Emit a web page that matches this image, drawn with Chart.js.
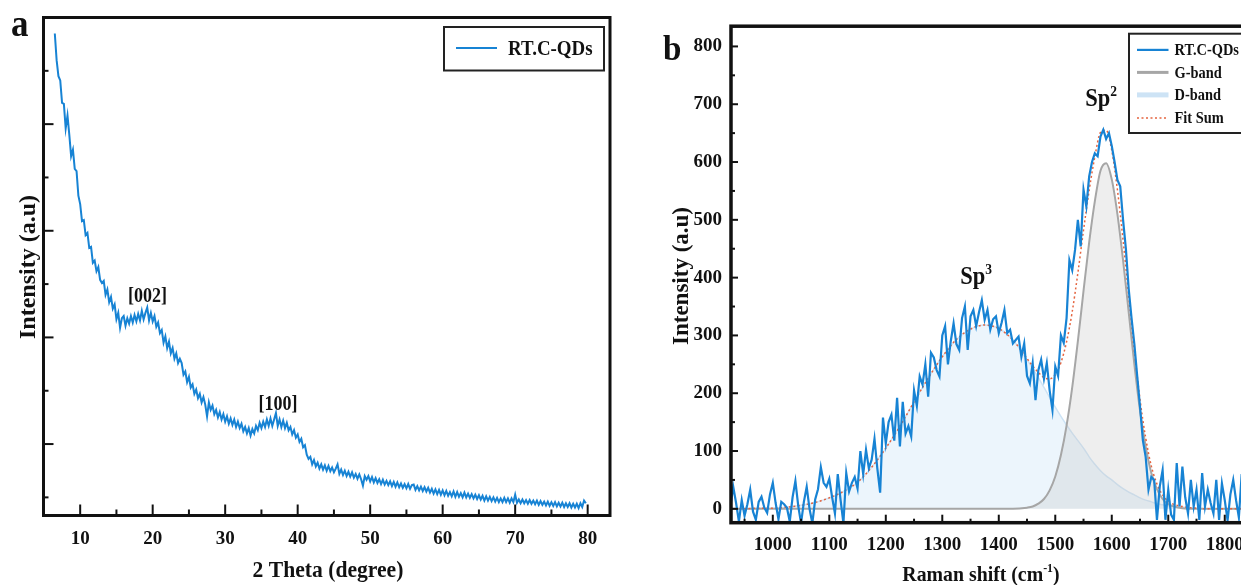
<!DOCTYPE html>
<html>
<head>
<meta charset="utf-8">
<script src="https://cdn.jsdelivr.net/npm/chart.js@4.4.1/dist/chart.umd.min.js"></script>
<style>
  html, body { margin: 0; padding: 0; background: #fff; overflow: hidden; width: 1241px; height: 585px; }
  #panel-a { position: absolute; left: 0; top: 0; width: 620px; height: 585px; }
  #panel-b { position: absolute; left: 625px; top: 0; width: 660px; height: 585px; }
</style>
</head>
<body>
<div id="panel-a"><canvas id="xrdChart"></canvas></div>
<div id="panel-b"><canvas id="ramanChart"></canvas></div>
<script>
// ===== DATA =====
// (a) XRD pattern, 2 theta in degrees (one row per degree)
const twoTheta = [
  6.5, 6.75,
  7, 7.25, 7.5, 7.75, 8, 8.25, 8.5, 8.75, 9, 9.25, 9.5, 9.75,
  10, 10.25, 10.5, 10.75, 11, 11.25, 11.5, 11.75, 12, 12.25, 12.5, 12.75,
  13, 13.25, 13.5, 13.75, 14, 14.25, 14.5, 14.75, 15, 15.25, 15.5, 15.75,
  16, 16.25, 16.5, 16.75, 17, 17.25, 17.5, 17.75, 18, 18.25, 18.5, 18.75,
  19, 19.25, 19.5, 19.75, 20, 20.25, 20.5, 20.75, 21, 21.25, 21.5, 21.75,
  22, 22.25, 22.5, 22.75, 23, 23.25, 23.5, 23.75, 24, 24.25, 24.5, 24.75,
  25, 25.25, 25.5, 25.75, 26, 26.25, 26.5, 26.75, 27, 27.25, 27.5, 27.75,
  28, 28.25, 28.5, 28.75, 29, 29.25, 29.5, 29.75, 30, 30.25, 30.5, 30.75,
  31, 31.25, 31.5, 31.75, 32, 32.25, 32.5, 32.75, 33, 33.25, 33.5, 33.75,
  34, 34.25, 34.5, 34.75, 35, 35.25, 35.5, 35.75, 36, 36.25, 36.5, 36.75,
  37, 37.25, 37.5, 37.75, 38, 38.25, 38.5, 38.75, 39, 39.25, 39.5, 39.75,
  40, 40.25, 40.5, 40.75, 41, 41.25, 41.5, 41.75, 42, 42.25, 42.5, 42.75,
  43, 43.25, 43.5, 43.75, 44, 44.25, 44.5, 44.75, 45, 45.25, 45.5, 45.75,
  46, 46.25, 46.5, 46.75, 47, 47.25, 47.5, 47.75, 48, 48.25, 48.5, 48.75,
  49, 49.25, 49.5, 49.75, 50, 50.25, 50.5, 50.75, 51, 51.25, 51.5, 51.75,
  52, 52.25, 52.5, 52.75, 53, 53.25, 53.5, 53.75, 54, 54.25, 54.5, 54.75,
  55, 55.25, 55.5, 55.75, 56, 56.25, 56.5, 56.75, 57, 57.25, 57.5, 57.75,
  58, 58.25, 58.5, 58.75, 59, 59.25, 59.5, 59.75, 60, 60.25, 60.5, 60.75,
  61, 61.25, 61.5, 61.75, 62, 62.25, 62.5, 62.75, 63, 63.25, 63.5, 63.75,
  64, 64.25, 64.5, 64.75, 65, 65.25, 65.5, 65.75, 66, 66.25, 66.5, 66.75,
  67, 67.25, 67.5, 67.75, 68, 68.25, 68.5, 68.75, 69, 69.25, 69.5, 69.75,
  70, 70.25, 70.5, 70.75, 71, 71.25, 71.5, 71.75, 72, 72.25, 72.5, 72.75,
  73, 73.25, 73.5, 73.75, 74, 74.25, 74.5, 74.75, 75, 75.25, 75.5, 75.75,
  76, 76.25, 76.5, 76.75, 77, 77.25, 77.5, 77.75, 78, 78.25, 78.5, 78.75,
  79, 79.25, 79.5, 79.75
];
const xrdIntensity = [
  4850, 4600,
  4450, 4410, 4200, 4190, 3960, 4080, 3900, 3700, 3760, 3580, 3560, 3330,
  3250, 3090, 3100, 2960, 2980, 2840, 2850, 2700, 2720, 2620, 2660, 2540,
  2510, 2530, 2400, 2450, 2330, 2380, 2270, 2310, 2170, 2230, 2090, 2180,
  2200, 2110, 2180, 2130, 2200, 2140, 2210, 2150, 2220, 2160, 2250, 2170,
  2230, 2280, 2160, 2230, 2150, 2200, 2100, 2140, 2040, 2070, 1950, 2010,
  1900, 1960, 1850, 1900, 1800, 1850, 1760, 1800, 1760, 1650, 1680, 1580,
  1630, 1530, 1560, 1470, 1510, 1430, 1470, 1390, 1440, 1370, 1260, 1390,
  1320, 1360, 1280, 1320, 1250, 1300, 1230, 1280, 1210, 1260, 1190, 1240,
  1180, 1230, 1160, 1210, 1150, 1190, 1120, 1160, 1100, 1150, 1080, 1140,
  1100, 1170, 1130, 1200, 1150, 1210, 1160, 1230, 1170, 1240, 1170, 1230,
  1290, 1170, 1230, 1160, 1220, 1150, 1200, 1130, 1160, 1090, 1130, 1060,
  1090, 1020, 1050, 970, 990, 900, 860, 880, 810, 850, 790, 825,
  770, 810, 760, 800, 750, 795, 745, 780, 735, 770, 810, 720,
  760, 710, 750, 700, 740, 695, 735, 685, 720, 675, 715, 670,
  610, 700, 665, 700, 650, 690, 640, 680, 635, 670, 625, 665,
  620, 655, 615, 650, 605, 645, 600, 640, 595, 630, 590, 625,
  585, 625, 580, 615, 620, 570, 605, 565, 600, 560, 595, 555,
  590, 545, 580, 535, 575, 530, 570, 525, 565, 520, 560, 515,
  550, 510, 555, 505, 550, 505, 540, 500, 545, 500, 535, 495,
  530, 490, 525, 485, 520, 480, 515, 470, 510, 470, 505, 465,
  500, 460, 495, 455, 490, 455, 495, 455, 490, 450, 490, 455,
  525, 450, 480, 445, 480, 445, 475, 440, 475, 440, 470, 435,
  470, 430, 465, 430, 460, 425, 460, 420, 455, 420, 455, 415,
  450, 415, 450, 410, 445, 410, 445, 405, 440, 405, 440, 400,
  445, 410, 470, 445
];
const xTicksA = [10, 20, 30, 40, 50, 60, 70, 80];
const xMinorA = [15, 25, 35, 45, 55, 65, 75];
const yMajorA = [1000, 2000, 3000, 4000];
const yMinorA = [500, 1500, 2500, 3500, 4500];

// (b) Raman spectrum, shift in cm-1
const ramanShift = [
  925, 930, 935, 940, 945, 950, 955, 960, 965, 970,
  975, 980, 985, 990, 995, 1000, 1005, 1010, 1015, 1020,
  1025, 1030, 1035, 1040, 1045, 1050, 1055, 1060, 1065, 1070,
  1075, 1080, 1085, 1090, 1095, 1100, 1105, 1110, 1115, 1120,
  1125, 1130, 1135, 1140, 1145, 1150, 1155, 1160, 1165, 1170,
  1175, 1180, 1185, 1190, 1195, 1200, 1205, 1210, 1215, 1220,
  1225, 1230, 1235, 1240, 1245, 1250, 1255, 1260, 1265, 1270,
  1275, 1280, 1285, 1290, 1295, 1300, 1305, 1310, 1315, 1320,
  1325, 1330, 1335, 1340, 1345, 1350, 1355, 1360, 1365, 1370,
  1375, 1380, 1385, 1390, 1395, 1400, 1405, 1410, 1415, 1420,
  1425, 1430, 1435, 1440, 1445, 1450, 1455, 1460, 1465, 1470,
  1475, 1480, 1485, 1490, 1495, 1500, 1505, 1510, 1515, 1520,
  1525, 1530, 1535, 1540, 1545, 1550, 1555, 1560, 1565, 1570,
  1575, 1580, 1585, 1590, 1595, 1600, 1605, 1610, 1615, 1620,
  1625, 1630, 1635, 1640, 1645, 1650, 1655, 1660, 1665, 1670,
  1675, 1680, 1685, 1690, 1695, 1700, 1705, 1710, 1715, 1720,
  1725, 1730, 1735, 1740, 1745, 1750, 1755, 1760, 1765, 1770,
  1775, 1780, 1785, 1790, 1795, 1800, 1805, 1810, 1815, 1820,
  1825, 1830, 1835, 1840, 1845, 1850
];
const ramanIntensity = [
  5, 38, 10, -22, 15, -12, 8, 33, -5, -19,
  12, 21, 2, -7, 25, 45, 10, -18, 12, 8,
  2, -22, 20, 48, 5, -25, 12, 38, 0, -25,
  16, 34, 72, 45, 38, 52, 20, -8, 60, 15,
  -25, 62, 30, 45, 55, 35, 100, 60, 102, 70,
  85, 121, 70, 28, 158, 113, 150, 163, 118, 192,
  108, 185, 130, 143, 125, 205, 178, 229, 215, 250,
  194, 270, 262, 240, 229, 300, 316, 250, 290, 321,
  285, 275, 330, 350, 275, 333, 344, 316, 340, 361,
  327, 344, 310, 328, 333, 304, 322, 344, 304, 310,
  286, 292, 298, 263, 286, 230, 217, 252, 188, 240,
  258, 225, 252, 205, 171, 246, 230, 300, 287, 330,
  430, 413, 448, 500, 454, 552, 523, 575, 600, 615,
  610, 644, 656, 640, 650, 628, 600, 569, 558, 500,
  450, 380, 330, 285, 230, 177, 119, 90, 33, 55,
  50, -19, 39, 67, -19, 33, -10, -19, 79, 4,
  73, 20, -8, 50, 4, 33, -19, 62, 4, 33,
  10, -8, 50, -19, 44, 15, -20, 25, 50, 15,
  -15, 60, 5, 30, -10, 20
];
// fitted components, read at these shifts
const fitShift = [
  925, 950, 975, 1000, 1025, 1050, 1075, 1100, 1125, 1150,
  1175, 1200, 1225, 1250, 1275, 1300, 1325, 1350, 1375, 1400,
  1425, 1450, 1460, 1470, 1480, 1490, 1500, 1510, 1520, 1530,
  1540, 1550, 1560, 1570, 1580, 1590, 1600, 1610, 1620, 1630,
  1640, 1650, 1660, 1670, 1680, 1690, 1700, 1725, 1750, 1775,
  1800, 1825, 1850
];
const gBand = [
  0, 0, 0, 0, 0, 0, 0, 0, 0, 0,
  0, 0, 0, 0, 0, 0, 0, 0, 0, 0,
  0, 2, 4, 9, 17, 32, 56, 93, 144, 210,
  290, 377, 461, 532, 585, 598, 570, 510, 430, 340,
  250, 170, 108, 62, 34, 17, 8, 1, 0, 0,
  0, 0, 0
];
const dBand = [
  0, 0, 1, 1, 3, 6, 11, 19, 30, 46,
  72, 105, 143, 185, 226, 263, 293, 311, 318, 312,
  292, 258, 243, 227, 210, 193, 176, 160, 145, 131,
  118, 105, 90, 77, 66, 57, 50, 42, 35, 29,
  24, 19, 15, 12, 9, 7, 5, 3, 1, 0,
  0, 0, 0
];
const fitSum = [
  0, 0, 1, 1, 3, 6, 11, 19, 30, 46,
  72, 105, 143, 185, 226, 263, 293, 311, 318, 312,
  292, 260, 247, 236, 227, 225, 232, 253, 289, 341,
  408, 482, 551, 609, 651, 655, 620, 552, 465, 369,
  274, 189, 123, 74, 43, 24, 13, 4, 1, 0,
  0, 0, 0
];
const xTicksB = [1000, 1100, 1200, 1300, 1400, 1500, 1600, 1700, 1800];
const xMinorB = [950, 1050, 1150, 1250, 1350, 1450, 1550, 1650, 1750, 1850];
const yTicksB = [0, 100, 200, 300, 400, 500, 600, 700, 800];
const yMinorB = [50, 150, 250, 350, 450, 550, 650, 750];

// ===== DRAWING HELPERS =====
const SERIF = '"Liberation Serif", "Times New Roman", serif';
const BLUE = '#1783d4';

function boldFont(size) {
    return `bold ${size}px ${SERIF}`;
}

// the source figure's text is a little narrow, so squeeze horizontally
function drawParts(ctx, parts, x, y, size, align, squeeze) {
    ctx.save();
    ctx.translate(x, y);
    ctx.scale(squeeze || 1, 1);
    ctx.textBaseline = 'alphabetic';
    ctx.textAlign = 'left';
    let total = 0;
    const widths = parts.map(([t, sup]) => {
        ctx.font = boldFont(sup ? size * 0.6 : size);
        const w = ctx.measureText(t).width;
        total += w;
        return w;
    });
    let cx = align === 'left' ? 0 : -total / 2;
    parts.forEach(([t, sup], i) => {
        ctx.font = boldFont(sup ? size * 0.6 : size);
        ctx.fillText(t, cx, sup ? -size * 0.4 : 0);
        cx += widths[i];
    });
    ctx.restore();
}

const panelDecor = {
    id: 'panelDecor',
    afterDraw(chart, args, opts) {
        const ctx = chart.ctx;
        const a = chart.chartArea;
        const xs = chart.scales.x, ys = chart.scales.y;
        ctx.save();
        ctx.fillStyle = '#111';
        ctx.strokeStyle = '#111';

        // inward tick marks
        ctx.lineWidth = 2;
        const tick = (x1, y1, x2, y2) => {
            ctx.beginPath(); ctx.moveTo(x1, y1); ctx.lineTo(x2, y2); ctx.stroke();
        };
        const inX = v => v > xs.min && v < xs.max;
        const inY = v => v > ys.min && v < ys.max;
        opts.xMajor.filter(inX).forEach(v => { const p = xs.getPixelForValue(v); tick(p, a.bottom, p, a.bottom - opts.len[0]); });
        opts.xMinor.filter(inX).forEach(v => { const p = xs.getPixelForValue(v); tick(p, a.bottom, p, a.bottom - opts.len[1]); });
        opts.yMajor.filter(inY).forEach(v => { const p = ys.getPixelForValue(v); tick(a.left, p, a.left + opts.len[2], p); });
        opts.yMinor.filter(inY).forEach(v => { const p = ys.getPixelForValue(v); tick(a.left, p, a.left + opts.len[3], p); });

        // frame
        ctx.lineWidth = opts.frameWidth;
        ctx.strokeRect(a.left, a.top, a.right - a.left, a.bottom - a.top);

        // panel letter
        drawParts(ctx, [[opts.letter.text]], opts.letter.x, opts.letter.y, opts.letter.size, 'left', 0.92);

        // axis titles
        const xt = opts.xTitle;
        drawParts(ctx, xt.parts, xt.x, xt.y, xt.size, 'center', 0.9);
        const yt = opts.yTitle;
        ctx.save();
        ctx.translate(yt.x, yt.y);
        ctx.rotate(-Math.PI / 2);
        drawParts(ctx, [[yt.text]], 0, yt.size * 0.33, yt.size, 'center', 1);
        ctx.restore();

        // peak annotations, placed in data coordinates
        opts.notes.forEach(n => {
            const px = xs.getPixelForValue(n.x);
            const py = ys.getPixelForValue(n.y);
            drawParts(ctx, n.parts, px, py + n.size * 0.33, n.size, 'center', 0.9);
        });

        // legend box
        const L = opts.legend;
        ctx.fillStyle = '#fff';
        ctx.fillRect(L.box[0], L.box[1], L.box[2], L.box[3]);
        ctx.lineWidth = 2;
        ctx.strokeStyle = '#222';
        ctx.strokeRect(L.box[0], L.box[1], L.box[2], L.box[3]);
        ctx.fillStyle = '#111';
        chart.data.datasets.forEach((ds, i) => {
            const y = L.rowY[i];
            ctx.save();
            ctx.strokeStyle = ds.borderColor;
            ctx.lineWidth = L.lineWidths[i];
            ctx.setLineDash(ds.borderDash || []);
            ctx.beginPath(); ctx.moveTo(L.lineX[0], y); ctx.lineTo(L.lineX[1], y); ctx.stroke();
            ctx.restore();
            drawParts(ctx, [[ds.label]], L.textX, y + L.size * 0.33, L.size, 'left', 0.9);
        });
        ctx.restore();
    }
};

const tickFont = { family: SERIF, size: 19, weight: 'bold' };

// ===== (a) XRD =====
new Chart(document.getElementById('xrdChart'), {
    type: 'line',
    data: {
        datasets: [{
            label: 'RT.C-QDs',
            data: twoTheta.map((t, i) => ({ x: t, y: xrdIntensity[i] })),
            borderColor: BLUE,
            borderWidth: 2,
            pointRadius: 0,
            tension: 0
        }]
    },
    options: {
        responsive: true,
        maintainAspectRatio: false,
        animation: false,
        devicePixelRatio: 1,
        layout: { padding: { left: 0, top: 17.5, right: 10, bottom: 0 } },
        plugins: {
            legend: { display: false },
            tooltip: { enabled: false },
            panelDecor: {
                letter: { text: 'a', x: 11, y: 36, size: 38 },
                xMajor: xTicksA, xMinor: xMinorA, yMajor: yMajorA, yMinor: yMinorA,
                len: [11, 6, 10, 5],
                frameWidth: 3,
                xTitle: { parts: [['2 Theta (degree)']], x: 328, y: 577, size: 24 },
                yTitle: { text: 'Intensity (a.u)', x: 27, y: 267, size: 24 },
                notes: [
                    { parts: [['[002]']], x: 19.3, y: 2390, size: 20 },
                    { parts: [['[100]']], x: 37.3, y: 1384, size: 20 }
                ],
                legend: { box: [444, 27, 160, 43.5], lineX: [456, 497], textX: 508, rowY: [48], lineWidths: [2], size: 21 }
            }
        },
        scales: {
            x: {
                type: 'linear', min: 4.94, max: 83.08,
                afterBuildTicks: s => { s.ticks = xTicksA.map(v => ({ value: v })); },
                afterFit: s => { s.height = 69.5; },
                grid: { display: false, drawTicks: false },
                border: { display: false },
                ticks: { font: tickFont, color: '#111', padding: 12, autoSkip: false, maxRotation: 0, callback: v => String(v) }
            },
            y: {
                type: 'linear', min: 330, max: 5000,
                afterFit: s => { s.width = 43.5; },
                grid: { display: false, drawTicks: false },
                border: { display: false },
                ticks: { display: false }
            }
        }
    },
    plugins: [panelDecor]
});

// ===== (b) Raman =====
new Chart(document.getElementById('ramanChart'), {
    type: 'line',
    data: {
        datasets: [{
            label: 'RT.C-QDs',
            data: ramanShift.map((s, i) => ({ x: s, y: ramanIntensity[i] })),
            borderColor: BLUE,
            borderWidth: 2.2,
            pointRadius: 0,
            tension: 0,
            order: 1
        }, {
            label: 'G-band',
            data: fitShift.map((s, i) => ({ x: s, y: gBand[i] })),
            borderColor: '#a6a6a6',
            borderWidth: 2,
            backgroundColor: 'rgba(200,200,200,0.3)',
            fill: 'origin',
            pointRadius: 0,
            cubicInterpolationMode: 'monotone',
            order: 3
        }, {
            label: 'D-band',
            data: fitShift.map((s, i) => ({ x: s, y: dBand[i] })),
            borderColor: '#cde3f5',
            borderWidth: 1.5,
            backgroundColor: 'rgba(200,225,245,0.35)',
            fill: 'origin',
            pointRadius: 0,
            cubicInterpolationMode: 'monotone',
            order: 4
        }, {
            label: 'Fit Sum',
            data: fitShift.map((s, i) => ({ x: s, y: fitSum[i] })),
            borderColor: '#e5643f',
            borderWidth: 1.5,
            borderDash: [2, 2.5],
            pointRadius: 0,
            cubicInterpolationMode: 'monotone',
            order: 2
        }]
    },
    options: {
        responsive: true,
        maintainAspectRatio: false,
        animation: false,
        devicePixelRatio: 1,
        layout: { padding: { left: 0, top: 26.2, right: 32, bottom: 0 } },
        plugins: {
            legend: { display: false },
            tooltip: { enabled: false },
            panelDecor: {
                letter: { text: 'b', x: 38, y: 60, size: 36 },
                xMajor: xTicksB, xMinor: xMinorB, yMajor: yTicksB, yMinor: yMinorB,
                len: [8, 4, 7, 4],
                frameWidth: 3.5,
                xTitle: { parts: [['Raman shift (cm'], ['-1', true], [')']], x: 356, y: 581, size: 22 },
                yTitle: { text: 'Intensity (a.u)', x: 55, y: 276, size: 23 },
                notes: [
                    { parts: [['Sp'], ['3', true]], x: 1360, y: 403, size: 25 },
                    { parts: [['Sp'], ['2', true]], x: 1581, y: 711, size: 25 }
                ],
                legend: {
                    box: [504, 33.7, 200, 99.3], lineX: [512, 543.5], textX: 549.5,
                    rowY: [49.9, 72.4, 94.9, 118], lineWidths: [2.2, 3, 5, 1.5], size: 16
                }
            }
        },
        scales: {
            x: {
                type: 'linear', min: 926, max: 1850,
                afterBuildTicks: s => { s.ticks = xTicksB.map(v => ({ value: v })); },
                afterFit: s => { s.height = 62.3; },
                grid: { display: false, drawTicks: false },
                border: { display: false },
                ticks: { font: tickFont, color: '#111', padding: 11, autoSkip: false, maxRotation: 0, callback: v => String(v) }
            },
            y: {
                type: 'linear', min: -24, max: 835,
                afterBuildTicks: s => { s.ticks = yTicksB.map(v => ({ value: v })); },
                afterFit: s => { s.width = 106; },
                grid: { display: false, drawTicks: false },
                border: { display: false },
                ticks: { font: tickFont, color: '#111', padding: 9, autoSkip: false, callback: v => String(v) }
            }
        }
    },
    plugins: [panelDecor]
});
</script>
</body>
</html>
